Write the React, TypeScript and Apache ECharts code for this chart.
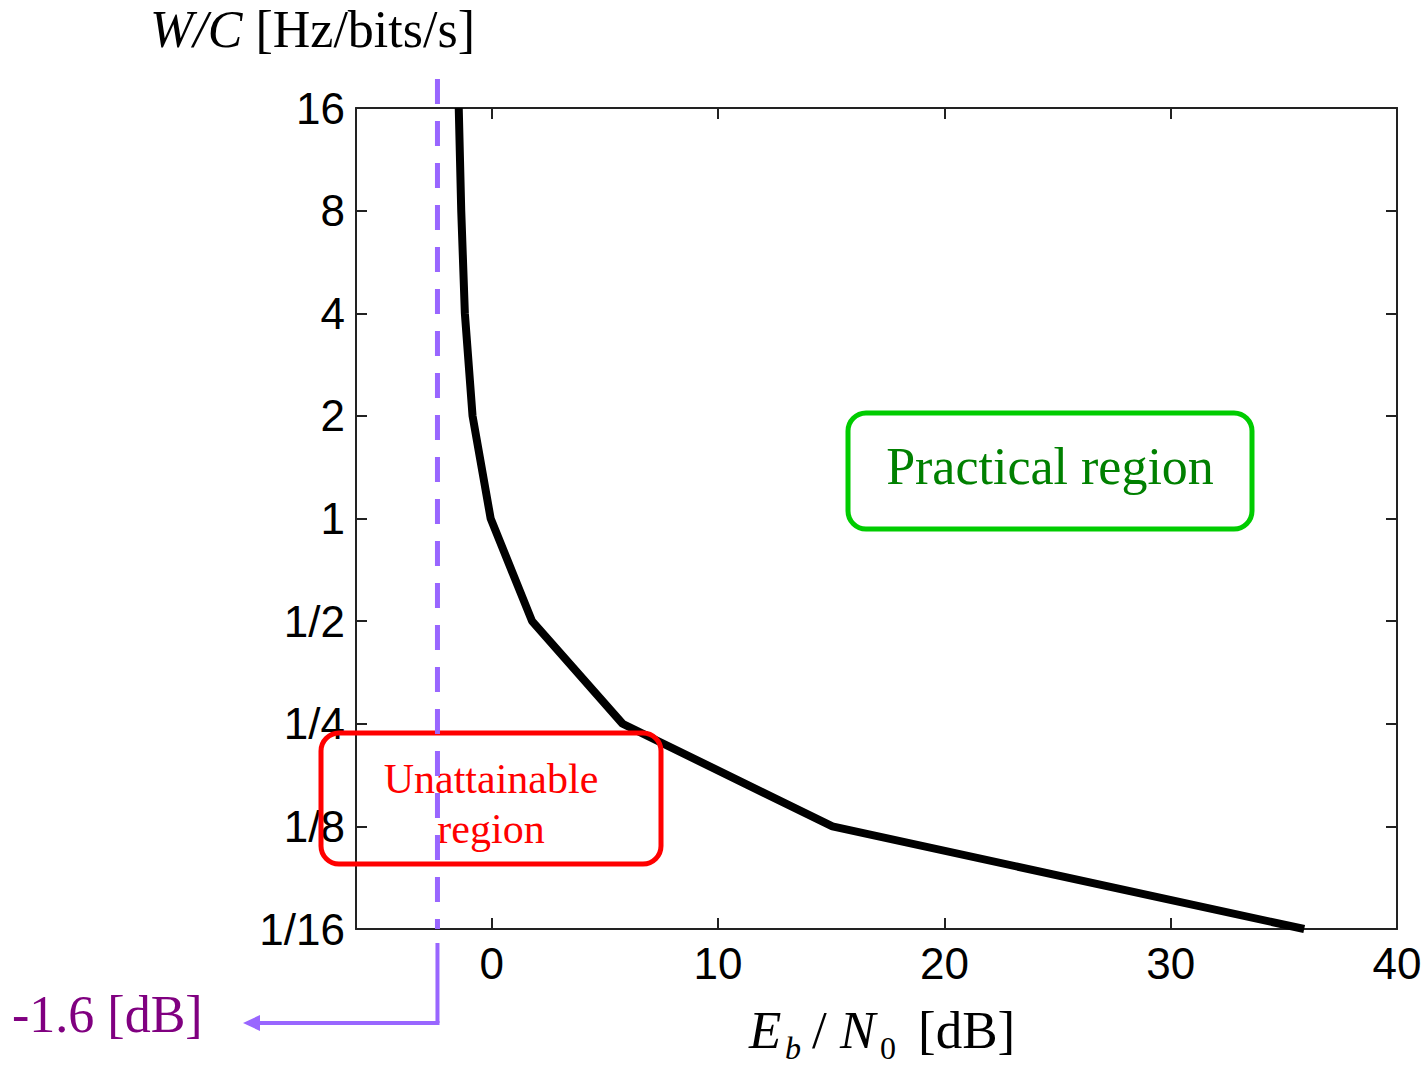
import React, { useEffect, useRef } from 'react';
import * as echarts from 'echarts';

// ---- data ----
const wcValues = [16, 8, 4, 2, 1, 1 / 2, 1 / 4, 1 / 8, 1 / 16]; // W/C [Hz/bits/s]
const ebn0Values = [-1.46, -1.35, -1.19, -0.85, -0.05, 1.78, 5.78, 15.05, 35.9]; // Eb/N0 [dB]
const xTickValues = [0, 10, 20, 30, 40];
const X_MIN = -6;
const X_MAX = 40;
const Y_MIN = 1 / 16;
const Y_MAX = 16;
const limitX = -2.4; // where the dashed Shannon-limit line is drawn
const limitLabel = '-1.6 [dB]';
const practicalLabel = 'Practical region';
const unattainLines = ['Unattainable', 'region'];

const SANS = '"Liberation Sans", Arial, Helvetica, sans-serif';
const SERIF = '"Liberation Serif", "Times New Roman", Times, serif';
const PURPLE = '#9966ff';

const fmtY = (v: number) => (v >= 1 ? String(Math.round(v)) : '1/' + Math.round(1 / v));

export default function App() {
  const ref = useRef<HTMLDivElement>(null);
  useEffect(() => {
    document.body.style.margin = '0';
    const chart = echarts.init(ref.current!, undefined, { renderer: 'svg' });
    const axisLine = { show: true, onZero: false, lineStyle: { color: '#222', width: 2 } };
    const tick = { show: true, inside: true, length: 11, lineStyle: { color: '#222', width: 2 } };
    const data = wcValues.map((w, i) => [ebn0Values[i], w]);
    chart.setOption({
      animation: false,
      grid: { left: 356, top: 108, width: 1041, height: 821, containLabel: false },
      xAxis: [
        {
          type: 'value', min: X_MIN, max: X_MAX, position: 'bottom',
          axisLine, axisTick: { ...tick, customValues: xTickValues },
          axisLabel: { customValues: xTickValues, color: '#000', fontSize: 44, fontFamily: SANS, margin: 12 },
          splitLine: { show: false },
        },
        {
          type: 'value', min: X_MIN, max: X_MAX, position: 'top',
          axisLine, axisTick: { ...tick, customValues: xTickValues },
          axisLabel: { show: false }, splitLine: { show: false },
        },
      ],
      yAxis: [
        {
          type: 'log', logBase: 2, min: Y_MIN, max: Y_MAX, interval: 1, splitNumber: 8, position: 'left',
          axisLine, axisTick: tick,
          axisLabel: { formatter: fmtY, color: '#000', fontSize: 44, fontFamily: SANS, margin: 11 },
          splitLine: { show: false }, minorTick: { show: false },
        },
        {
          type: 'log', logBase: 2, min: Y_MIN, max: Y_MAX, interval: 1, splitNumber: 8, position: 'right',
          axisLine, axisTick: tick, axisLabel: { show: false },
          splitLine: { show: false },
        },
      ],
      series: [
        {
          type: 'line', xAxisIndex: 0, yAxisIndex: 0, data, showSymbol: false, symbol: 'none',
          lineStyle: { color: '#000', width: 8 }, z: 3,
        },
      ],
    });

    const px = chart.convertToPixel({ xAxisIndex: 0 }, limitX) as number;
    const plotBottom = chart.convertToPixel({ yAxisIndex: 0 }, Y_MIN) as number;
    const txt = (text: string, x: number, y: number, font: string, fill: string, align = 'left', extra: any = {}) => ({
      type: 'text', z: 100,
      style: { text, x, y, font, fill, textAlign: align, align, textVerticalAlign: 'middle', verticalAlign: 'middle', ...extra },
    });

    chart.setOption({
      graphic: [
        { type: 'rect', z: 90, shape: { x: 848, y: 413, width: 404, height: 116, r: 18 }, style: { fill: 'none', stroke: '#00cc00', lineWidth: 5 } },
        txt(practicalLabel, 1050, 466, `52px ${SERIF}`, '#008000', 'center'),
        { type: 'rect', z: 90, shape: { x: 321, y: 733, width: 340, height: 131, r: 18 }, style: { fill: 'none', stroke: '#ff0000', lineWidth: 5 } },
        txt(unattainLines[0], 491, 779, `42px ${SERIF}`, '#ff0000', 'center'),
        txt(unattainLines[1], 491, 829, `42px ${SERIF}`, '#ff0000', 'center'),
        { type: 'line', z: 110, shape: { x1: px, y1: 79, x2: px, y2: plotBottom }, style: { stroke: PURPLE, lineWidth: 5, lineDash: [25, 17] } },
        { type: 'line', z: 110, shape: { x1: px, y1: 943, x2: px, y2: 1023 }, style: { stroke: PURPLE, lineWidth: 4 } },
        { type: 'line', z: 110, shape: { x1: px + 2, y1: 1023, x2: 256, y2: 1023 }, style: { stroke: PURPLE, lineWidth: 4 } },
        { type: 'polygon', z: 110, shape: { points: [[243, 1023], [260, 1015], [260, 1031]] }, style: { fill: PURPLE } },
        txt(limitLabel, 12, 1014, `52px ${SERIF}`, '#800080'),
        {
          type: 'text', z: 100,
          style: {
            text: '{i|W/C} [Hz/bits/s]', x: 150, y: 29, font: `52px ${SERIF}`, fill: '#000',
            textVerticalAlign: 'middle', verticalAlign: 'middle',
            rich: { i: { fontStyle: 'italic', fontSize: 52, fontFamily: SERIF, fill: '#000' } },
          },
        },
        txt('E', 749, 1030, `italic 53px ${SERIF}`, '#000'),
        txt('b', 785, 1048, `italic 32px ${SERIF}`, '#000'),
        txt('/', 812, 1030, `53px ${SERIF}`, '#000'),
        txt('N', 840, 1030, `italic 53px ${SERIF}`, '#000'),
        txt('0', 880, 1048, `32px ${SERIF}`, '#000'),
        txt('[dB]', 918, 1030, `53px ${SERIF}`, '#000'),
      ],
    });
    return () => chart.dispose();
  }, []);
  return <div ref={ref} style={{ width: 1425, height: 1065 }} />;
}
